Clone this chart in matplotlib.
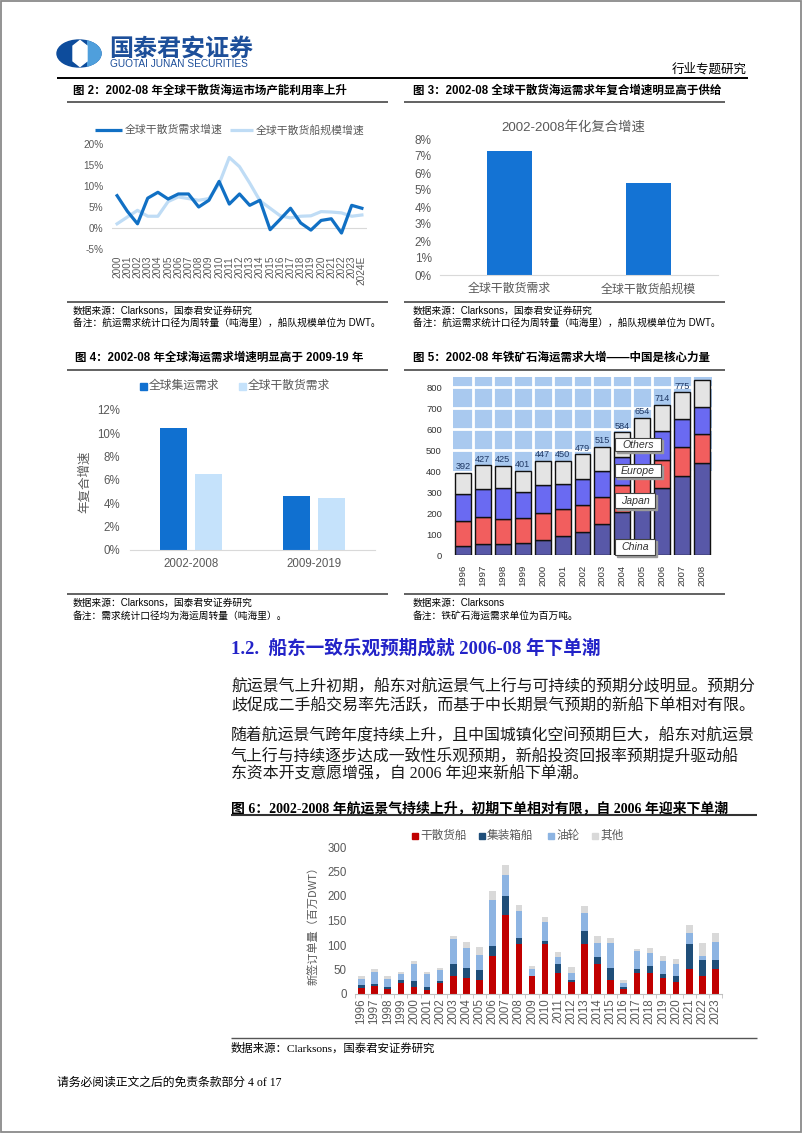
import matplotlib
matplotlib.use('Agg')
import matplotlib.pyplot as plt
from matplotlib.patches import Rectangle, Ellipse, Polygon
import numpy as np

W, H = 802, 1133
SANS = ['Liberation Sans', 'Noto Sans CJK SC', 'DejaVu Sans']
CJK = ['Noto Sans CJK SC', 'DejaVu Sans']
SERIF = ['Liberation Serif', 'Noto Sans CJK SC', 'DejaVu Sans']
plt.rcParams['font.family'] = SANS

# ---------------- data ----------------
# Fig 2
years2 = ['2000', '2001', '2002', '2003', '2004', '2005', '2006', '2007', '2008', '2009',
          '2010', '2011', '2012', '2013', '2014', '2015', '2016', '2017', '2018', '2019',
          '2020', '2021', '2022', '2023', '2024E']
dry_demand_growth = [7.7, 4.0, 1.0, 7.1, 8.5, 6.9, 8.1, 8.1, 5.0, 6.6, 11.1, 5.7, 8.1, 5.4, 6.6,
                     -0.4, 2.1, 4.7, 1.2, -0.5, 1.8, 2.2, -1.2, 5.4, 4.7]
dry_fleet_growth = [1.0, 2.6, 4.2, 2.8, 2.8, 6.3, 7.4, 7.0, 6.6, 7.0, 10.5, 16.8, 14.6, 10.7, 6.5,
                    4.7, 2.9, 2.4, 2.8, 2.9, 3.9, 3.8, 3.6, 2.8, 3.1]
fig2_series = ['全球干散货需求增速', '全球干散货船规模增速']
fig2_yticks = [-5, 0, 5, 10, 15, 20]

# Fig 3
fig3_cats = ['全球干散货需求', '全球干散货船规模']
fig3_vals = [7.3, 5.4]

# Fig 4
fig4_cats = ['2002-2008', '2009-2019']
fig4_container = [10.5, 4.6]
fig4_drybulk = [6.5, 4.5]
fig4_series = ['全球集运需求', '全球干散货需求']

# Fig 5 (million tonnes)
years5 = ['1996', '1997', '1998', '1999', '2000', '2001', '2002', '2003', '2004', '2005',
          '2006', '2007', '2008']
iron_china = [43, 54, 51, 55, 70, 92, 111, 147, 203, 245, 317, 375, 436]
iron_japan = [119, 125, 122, 121, 131, 127, 128, 129, 130, 127, 134, 140, 138]
iron_europe = [128, 135, 144, 125, 133, 118, 124, 122, 134, 148, 138, 135, 131]
iron_others = [102, 113, 108, 100, 113, 113, 116, 117, 117, 134, 125, 125, 127]
fig5_regions = ['China', 'Japan', 'Europe', 'Others']

# Fig 6 (million DWT)
years6 = [str(y) for y in range(1996, 2024)]
ord_drybulk = [12, 17, 10, 22, 15, 9, 22, 37, 33, 29, 77, 161, 102, 37, 102, 42, 24, 103, 62, 29,
               11, 43, 43, 32, 24, 52, 37, 52]
ord_container = [6, 3, 5, 6, 11, 6, 4, 24, 21, 21, 21, 39, 13, 0, 7, 20, 5, 25, 14, 24,
                 4, 8, 14, 9, 12, 50, 32, 18]
ord_tanker = [13, 25, 15, 13, 36, 25, 22, 51, 39, 30, 93, 42, 54, 15, 38, 14, 14, 38, 28, 52,
              8, 36, 27, 26, 25, 22, 9, 36]
ord_other = [5, 7, 7, 3, 6, 5, 5, 6, 14, 16, 19, 21, 12, 5, 10, 10, 13, 14, 15, 10,
             6, 5, 10, 11, 10, 17, 27, 18]
fig6_series = ['干散货船', '集装箱船', '油轮', '其他']

# ---------------- figure ----------------
fig = plt.figure(figsize=(W / 100, H / 100), dpi=100)
page = fig.add_axes([0, 0, 1, 1])
page.set_xlim(0, W)
page.set_ylim(H, 0)
page.axis('off')

GRAY = '#595959'


def T(x, y, s, size, color='black', ha='left', va='center', weight='normal', family=SANS, **kw):
    page.text(x, y, s, fontsize=size, color=color, ha=ha, va=va, fontweight=weight,
              family=family, **kw)


def HL(x0, x1, y, lw=1.0, color='black'):
    page.plot([x0, x1], [y, y], color=color, lw=lw, solid_capstyle='butt')


def axpx(x0, y0, x1, y1):
    return fig.add_axes([x0 / W, 1 - y1 / H, (x1 - x0) / W, (y1 - y0) / H])


# page border
page.add_patch(Rectangle((1, 1), W - 2.5, H - 2.5, fill=False, ec='#8a8a8a', lw=1.3))

# ---------------- header ----------------
logo_dark = '#0d4c9c'
logo_light = '#4f9fdc'
e1 = Ellipse((79, 53.5), 44, 27, color=logo_dark)
page.add_patch(e1)
e2 = Ellipse((79, 53.5), 44, 27, color=logo_light)
page.add_patch(e2)
clip = Rectangle((87, 30), 30, 50, transform=page.transData)
e2.set_clip_path(clip)
page.add_patch(Polygon([(73, 46), (80, 40.5), (87, 46), (87, 61), (80, 66.5), (73, 61)],
                       closed=True, color='white'))
T(109, 48.5, '国泰君安证券', 17.3, color='#1d4f9a', weight='bold', family=CJK)
T(110, 64, 'GUOTAI JUNAN SECURITIES', 7.3, color='#1d4f9a')
T(747, 69, '行业专题研究', 9, ha='right', family=CJK)
HL(57, 748, 77.5, lw=1.4)

# ---------------- Fig 2 ----------------
T(73, 91, '图 2：2002-08 年全球干散货海运市场产能利用率上升', 8.3, weight='bold')
HL(67, 388, 101.5, lw=1.3, color='#555555')
c_dark = '#1170c4'
c_light = '#bfdcf5'
page.plot([95, 122], [130, 130], color=c_dark, lw=2.3, solid_capstyle='butt')
T(125, 130, fig2_series[0], 7.8, color=GRAY)
page.plot([230, 253], [130, 130], color=c_light, lw=2.3, solid_capstyle='butt')
T(256, 130, fig2_series[1], 7.8, color=GRAY)

ax2 = axpx(112, 144, 367, 249)
x2 = np.arange(len(years2))
ax2.axhline(0, color='#d9d9d9', lw=0.8, zorder=1)
ax2.plot(x2, dry_fleet_growth, color=c_light, lw=2.3, zorder=2)
ax2.plot(x2, dry_demand_growth, color=c_dark, lw=2.3, zorder=3)
ax2.set_xlim(-0.5, len(years2) - 0.5)
ax2.set_ylim(-5, 20)
ax2.set_yticks(fig2_yticks)
ax2.set_yticklabels([f'{v}%' for v in fig2_yticks])
ax2.set_xticks(x2)
ax2.set_xticklabels(years2, rotation=90)
ax2.tick_params(axis='both', length=0, labelsize=7.2, labelcolor=GRAY)
ax2.tick_params(axis='y', pad=6)
ax2.tick_params(axis='x', pad=5)
for s in ax2.spines.values():
    s.set_visible(False)
ax2.patch.set_alpha(0)

HL(67, 388, 302, lw=1.3, color='#555555')
T(73, 311, '数据来源：Clarksons，国泰君安证券研究', 7)
T(73, 323, '备注：航运需求统计口径为周转量（吨海里），船队规模单位为 DWT。', 7)

# ---------------- Fig 3 ----------------
T(413, 91, '图 3：2002-08 全球干散货海运需求年复合增速明显高于供给', 8.3, weight='bold')
HL(404, 725, 101.5, lw=1.3, color='#555555')
T(573, 127, '2002-2008年化复合增速', 9.6, color=GRAY, ha='center')
ax3 = axpx(440, 139, 718, 275)
x3 = np.arange(len(fig3_cats))
ax3.bar(x3, fig3_vals, width=0.32, color='#1473d4')
ax3.set_xlim(-0.5, 1.5)
ax3.set_ylim(0, 8)
ax3.set_yticks(range(0, 9))
ax3.set_yticklabels([f'{v}%' for v in range(0, 9)])
ax3.set_xticks(x3)
ax3.set_xticklabels(fig3_cats)
ax3.tick_params(axis='both', length=0, labelcolor=GRAY)
ax3.tick_params(axis='y', labelsize=8.5, pad=6)
ax3.tick_params(axis='x', labelsize=8.6, pad=6)
for k in ['top', 'right', 'left']:
    ax3.spines[k].set_visible(False)
ax3.spines['bottom'].set_color('#d9d9d9')
ax3.patch.set_alpha(0)
HL(404, 725, 302, lw=1.3, color='#555555')
T(413, 311, '数据来源：Clarksons，国泰君安证券研究', 7)
T(413, 323, '备注：航运需求统计口径为周转量（吨海里），船队规模单位为 DWT。', 7)

# ---------------- Fig 4 ----------------
T(75, 358, '图 4：2002-08 年全球海运需求增速明显高于 2009-19 年', 8.3, weight='bold')
HL(67, 388, 369.5, lw=1.3, color='#555555')
c4d = '#1070d0'
c4l = '#c5e2fb'
page.add_patch(Rectangle((140, 383), 6.5, 6.5, color=c4d))
T(149, 386, fig4_series[0], 8.5, color=GRAY)
page.add_patch(Rectangle((239, 383), 6.5, 6.5, color=c4l))
T(248, 386, fig4_series[1], 8.5, color=GRAY)
ax4 = axpx(130, 410, 375, 550)
x4 = np.arange(len(fig4_cats))
ax4.bar(x4 - 0.143, fig4_container, width=0.222, color=c4d)
ax4.bar(x4 + 0.143, fig4_drybulk, width=0.222, color=c4l)
ax4.set_xlim(-0.5, 1.5)
ax4.set_ylim(0, 12)
ax4.set_yticks(range(0, 13, 2))
ax4.set_yticklabels([f'{v}%' for v in range(0, 13, 2)])
ax4.set_xticks(x4)
ax4.set_xticklabels(fig4_cats)
ax4.tick_params(axis='both', length=0, labelcolor=GRAY, labelsize=8.3)
ax4.tick_params(axis='y', pad=7)
ax4.tick_params(axis='x', pad=6)
for k in ['top', 'right', 'left']:
    ax4.spines[k].set_visible(False)
ax4.spines['bottom'].set_color('#d9d9d9')
ax4.patch.set_alpha(0)
T(85, 482, '年复合增速', 9, color=GRAY, ha='center', rotation=90, family=CJK)
HL(67, 388, 594, lw=1.3, color='#555555')
T(73, 603, '数据来源：Clarksons，国泰君安证券研究', 7)
T(73, 616, '备注：需求统计口径均为海运周转量（吨海里）。', 7)

# ---------------- Fig 5 ----------------
T(413, 358, '图 5：2002-08 年铁矿石海运需求大增——中国是核心力量', 8.3, weight='bold')
HL(404, 725, 369.5, lw=1.3, color='#555555')
ax5 = axpx(453, 376.5, 712, 555)
n5 = len(years5)
x5 = np.arange(n5)
ax5.set_xlim(-0.5, n5 - 0.5)
ax5.set_ylim(0, 850)
ax5.axhspan(398, 850, color='#a9c9ef', zorder=0, lw=0)
for yv in [500, 600, 700, 800]:
    ax5.axhline(yv, color='white', lw=2.0, zorder=0.5)
for i in range(n5 - 1):
    ax5.plot([i + 0.5, i + 0.5], [398, 850], color='white', lw=2.0, zorder=0.5)
cols5 = ['#5858a8', '#f25e5e', '#6a6af2', '#e4e4e4']
bottom = np.zeros(n5)
for vals, col in zip([iron_china, iron_japan, iron_europe, iron_others], cols5):
    ax5.bar(x5, vals, bottom=bottom, width=0.8, color=col, edgecolor='#111111', lw=1.0, zorder=2)
    bottom = bottom + np.array(vals)
for i in range(n5):
    if bottom[i] < 800:
        ax5.text(x5[i], bottom[i] + 8, f'{int(bottom[i])}', ha='center', va='bottom',
                 fontsize=6.6, color='#1f3864', zorder=3)
ax5.set_yticks(range(0, 801, 100))
ax5.set_xticks(x5)
ax5.set_xticklabels(years5, rotation=90)
ax5.tick_params(axis='both', length=0, labelcolor='#333333', labelsize=6.8)
ax5.tick_params(axis='y', pad=8)
ax5.tick_params(axis='x', pad=7)
for s in ax5.spines.values():
    s.set_visible(False)
# region label boxes
boxes = [('Others', 615, 438, 661, 451), ('Europe', 615, 464, 661, 477),
         ('Japan', 615, 493, 655, 508), ('China', 615, 539, 655, 555)]
for name, bx0, by0, bx1, by1 in boxes:
    ax5.add_patch(Rectangle((bx0 + 1.5, by0 + 1.5), bx1 - bx0, by1 - by0, transform=page.transData,
                            color='#9a9a9a', clip_on=False, zorder=9))
    ax5.add_patch(Rectangle((bx0, by0), bx1 - bx0, by1 - by0, transform=page.transData,
                            fc='white', ec='#444444', lw=0.8, clip_on=False, zorder=10))
    ax5.text((bx0 + bx1) / 2, (by0 + by1) / 2, name, transform=page.transData, ha='center',
             va='center', fontsize=7.6, style='italic', color='#333333', zorder=11, clip_on=False)
HL(404, 725, 594, lw=1.3, color='#555555')
T(413, 603, '数据来源：Clarksons', 7)
T(413, 616, '备注：铁矿石海运需求单位为百万吨。', 7)

# ---------------- section text ----------------
T(231, 648, '1.2.  船东一致乐观预期成就 2006-08 年下单潮', 13.4, color='#2323c8', weight='bold',
  family=SERIF)
body = [
    (687, '航运景气上升初期，船东对航运景气上行与可持续的预期分歧明显。预期分'),
    (706, '歧促成二手船交易率先活跃，而基于中长期景气预期的新船下单相对有限。'),
    (737, '随着航运景气跨年度持续上升，且中国城镇化空间预期巨大，船东对航运景'),
    (756, '气上行与持续逐步达成一致性乐观预期，新船投资回报率预期提升驱动船'),
    (775, '东资本开支意愿增强，自 2006 年迎来新船下单潮。'),
]
for yy, line in body:
    T(231, yy, line, 11.45, color='#1a1a1a', family=SERIF)

# ---------------- Fig 6 ----------------
T(231, 808, '图 6：2002-2008 年航运景气持续上升，初期下单相对有限，自 2006 年迎来下单潮', 10.0,
  weight='bold', family=SERIF)
HL(231, 757, 815, lw=1.5, color='#333333')
cols6 = ['#c00000', '#1f4e79', '#8db4e2', '#d9d9d9']
leg_x = [412, 479, 548, 592]
for lx, col, name in zip(leg_x, cols6, fig6_series):
    page.add_patch(Rectangle((lx, 832.5), 6, 6, color=col))
    T(lx + 8, 836, name, 8.4, color=GRAY)
ax6 = axpx(355, 847, 722, 994)
n6 = len(years6)
x6 = np.arange(n6)
bottom = np.zeros(n6)
for vals, col in zip([ord_drybulk, ord_container, ord_tanker, ord_other], cols6):
    ax6.bar(x6, vals, bottom=bottom, width=0.5, color=col, lw=0)
    bottom = bottom + np.array(vals)
ax6.set_xlim(-0.5, n6 - 0.5)
ax6.set_ylim(0, 300)
ax6.set_yticks(range(0, 301, 50))
ax6.set_xticks(x6)
ax6.set_xticklabels(years6, rotation=90)
ax6.set_xticks(np.arange(-0.5, n6, 1), minor=True)
ax6.tick_params(axis='both', which='major', length=0, labelcolor=GRAY, labelsize=8.3)
ax6.tick_params(axis='x', which='minor', length=3, color='#bfbfbf', width=0.6)
ax6.tick_params(axis='y', pad=6)
ax6.tick_params(axis='x', which='major', pad=3)
for k in ['top', 'right', 'left']:
    ax6.spines[k].set_visible(False)
ax6.spines['bottom'].set_color('#bfbfbf')
ax6.patch.set_alpha(0)
T(313, 923, '新签订单量（百万DWT）', 8, color=GRAY, ha='center', rotation=90, family=CJK)
HL(231, 757, 1038, lw=1.0, color='#555555')
T(231, 1048, '数据来源：Clarksons，国泰君安证券研究', 8.2, family=SERIF)

# ---------------- footer ----------------
T(57, 1083, '请务必阅读正文之后的免责条款部分 4 of 17', 8.5, family=SERIF)

fig.savefig('out.png', dpi=100)
